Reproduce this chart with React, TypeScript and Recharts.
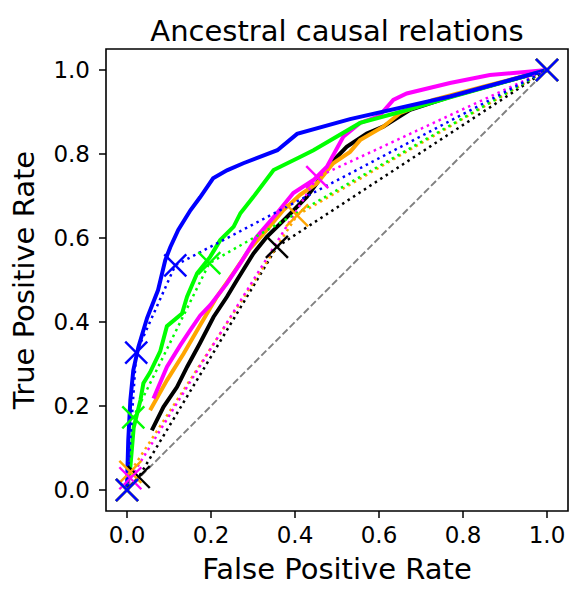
import React from 'react';
import {
  ComposedChart,
  Line,
  XAxis,
  YAxis,
  ReferenceArea,
} from 'recharts';

// solid ROC curves
const blueRocX = [0, 0.001, 0.003, 0.008, 0.015, 0.027, 0.048, 0.074, 0.091, 0.103, 0.122, 0.151, 0.174, 0.205, 0.238, 0.277, 0.358, 0.405, 0.531, 0.769, 1];
const blueRocY = [0, 0.047, 0.118, 0.214, 0.285, 0.34, 0.41, 0.476, 0.547, 0.578, 0.619, 0.666, 0.697, 0.742, 0.761, 0.778, 0.809, 0.848, 0.883, 0.937, 1];

const limeRocX = [0, 0.004, 0.008, 0.016, 0.032, 0.039, 0.055, 0.079, 0.095, 0.131, 0.143, 0.167, 0.198, 0.222, 0.254, 0.27, 0.301, 0.349, 0.412, 0.444, 0.555, 0.65, 0.769, 1];
const limeRocY = [0, 0.03, 0.055, 0.149, 0.214, 0.254, 0.28, 0.33, 0.39, 0.42, 0.46, 0.516, 0.555, 0.595, 0.627, 0.659, 0.698, 0.762, 0.793, 0.809, 0.874, 0.9, 0.935, 1];

const magentaRocX = [0.063, 0.095, 0.127, 0.151, 0.174, 0.198, 0.238, 0.27, 0.309, 0.357, 0.396, 0.444, 0.476, 0.515, 0.555, 0.6, 0.634, 0.666, 0.769, 0.864, 1];
const magentaRocY = [0.218, 0.293, 0.345, 0.381, 0.415, 0.44, 0.492, 0.54, 0.603, 0.659, 0.707, 0.738, 0.77, 0.841, 0.874, 0.89, 0.929, 0.944, 0.969, 0.988, 1];

const orangeRocX = [0.055, 0.095, 0.135, 0.174, 0.214, 0.253, 0.293, 0.333, 0.372, 0.412, 0.452, 0.491, 0.531, 0.555, 0.61, 0.65, 0.729, 0.848, 1];
const orangeRocY = [0.19, 0.261, 0.325, 0.392, 0.46, 0.516, 0.575, 0.619, 0.666, 0.703, 0.73, 0.778, 0.805, 0.833, 0.865, 0.897, 0.929, 0.96, 1];

const blackRocX = [0.059, 0.087, 0.119, 0.143, 0.174, 0.206, 0.238, 0.262, 0.301, 0.333, 0.381, 0.428, 0.492, 0.523, 0.571, 0.61, 0.674, 0.769, 1];
const blackRocY = [0.142, 0.198, 0.245, 0.293, 0.35, 0.412, 0.46, 0.5, 0.563, 0.603, 0.65, 0.698, 0.785, 0.817, 0.849, 0.865, 0.905, 0.936, 1];

// dotted lines through the thresholded points (marked with x)
const blueDotX = [0, 0.022, 0.115, 1];
const blueDotY = [0, 0.327, 0.535, 1];
const limeDotX = [0, 0.015, 0.196, 1];
const limeDotY = [0, 0.173, 0.54, 1];
const magentaDotX = [0, 0.008, 0.453, 1];
const magentaDotY = [0, 0.028, 0.745, 1];
const orangeDotX = [0, 0.008, 0.405, 1];
const orangeDotY = [0, 0.043, 0.654, 1];
const blackDotX = [0, 0.028, 0.357, 1];
const blackDotY = [0, 0.031, 0.579, 1];

const diagX = [0, 1];
const diagY = [0, 1];

const ticks = [0, 0.2, 0.4, 0.6, 0.8, 1.0];

const toPts = (xs: number[], ys: number[]) => xs.map((x, i) => ({ x, y: ys[i] }));

const series = [
  { name: 'black', color: '#000000', roc: toPts(blackRocX, blackRocY), dots: toPts(blackDotX, blackDotY) },
  { name: 'orange', color: '#ffa500', roc: toPts(orangeRocX, orangeRocY), dots: toPts(orangeDotX, orangeDotY) },
  { name: 'magenta', color: '#ff00ff', roc: toPts(magentaRocX, magentaRocY), dots: toPts(magentaDotX, magentaDotY) },
  { name: 'lime', color: '#00ff00', roc: toPts(limeRocX, limeRocY), dots: toPts(limeDotX, limeDotY) },
  { name: 'blue', color: '#0000ff', roc: toPts(blueRocX, blueRocY), dots: toPts(blueDotX, blueDotY) },
];

const FONT = '"DejaVu Sans", sans-serif';

const XMark = ({ cx, cy, color }: { cx: number; cy: number; color: string }) => {
  const r = 11;
  return (
    <g>
      <line x1={cx - r} y1={cy - r} x2={cx + r} y2={cy + r} stroke={color} strokeWidth={2.4} />
      <line x1={cx - r} y1={cy + r} x2={cx + r} y2={cy - r} stroke={color} strokeWidth={2.4} />
    </g>
  );
};

const fmt = (v: number) => v.toFixed(1);

export default function App() {
  return (
    <div style={{ position: 'absolute', left: 0, top: 0, width: 586, height: 601, background: '#fff', fontFamily: FONT }}>
      <div style={{ position: 'absolute', left: 337, top: 14, transform: 'translateX(-50%)', fontSize: 29, whiteSpace: 'nowrap', color: '#000' }}>
        Ancestral causal relations
      </div>
      <div style={{ position: 'absolute', left: 337, top: 552, transform: 'translateX(-50%)', fontSize: 29, whiteSpace: 'nowrap', color: '#000' }}>
        False Positive Rate
      </div>
      <div style={{ position: 'absolute', left: 24, top: 280, transform: 'translate(-50%, -50%) rotate(-90deg)', fontSize: 29, whiteSpace: 'nowrap', color: '#000' }}>
        True Positive Rate
      </div>
      <ComposedChart width={586} height={601} margin={{ top: 49, right: 18, bottom: 0, left: 0 }}>
        <XAxis
          dataKey="x"
          type="number"
          domain={[-0.05, 1.05]}
          ticks={ticks}
          tickFormatter={fmt}
          allowDataOverflow
          height={90}
          axisLine={false}
          tickSize={7}
          tickMargin={9}
          tickLine={{ stroke: '#000', strokeWidth: 1.5 }}
          tick={{ fill: '#000', fontSize: 23, fontFamily: FONT }}
        />
        <YAxis
          dataKey="y"
          type="number"
          domain={[-0.05, 1.05]}
          ticks={ticks}
          tickFormatter={fmt}
          allowDataOverflow
          width={106}
          axisLine={false}
          tickSize={7}
          tickMargin={9}
          tickLine={{ stroke: '#000', strokeWidth: 1.5 }}
          tick={{ fill: '#000', fontSize: 23, fontFamily: FONT }}
        />
        <Line
          data={toPts(diagX, diagY)}
          dataKey="y"
          stroke="#808080"
          strokeWidth={1.9}
          strokeDasharray="7 3"
          dot={false}
          activeDot={false}
          isAnimationActive={false}
        />
        {series.map((s) => (
          <Line
            key={`roc-${s.name}`}
            data={s.roc}
            dataKey="y"
            stroke={s.color}
            strokeWidth={4}
            dot={false}
            activeDot={false}
            isAnimationActive={false}
          />
        ))}
        {series.map((s) => (
          <Line
            key={`dot-${s.name}`}
            data={s.dots}
            dataKey="y"
            stroke={s.color}
            strokeWidth={2.5}
            strokeDasharray="2.5 4"
            dot={(p: any) => <XMark key={`${s.name}-x-${p.index}`} cx={p.cx} cy={p.cy} color={s.color} />}
            activeDot={false}
            isAnimationActive={false}
          />
        ))}
        <ReferenceArea x1={-0.05} x2={1.05} y1={-0.05} y2={1.05} fill="none" stroke="#000" strokeWidth={1.6} ifOverflow="visible" />
      </ComposedChart>
    </div>
  );
}
